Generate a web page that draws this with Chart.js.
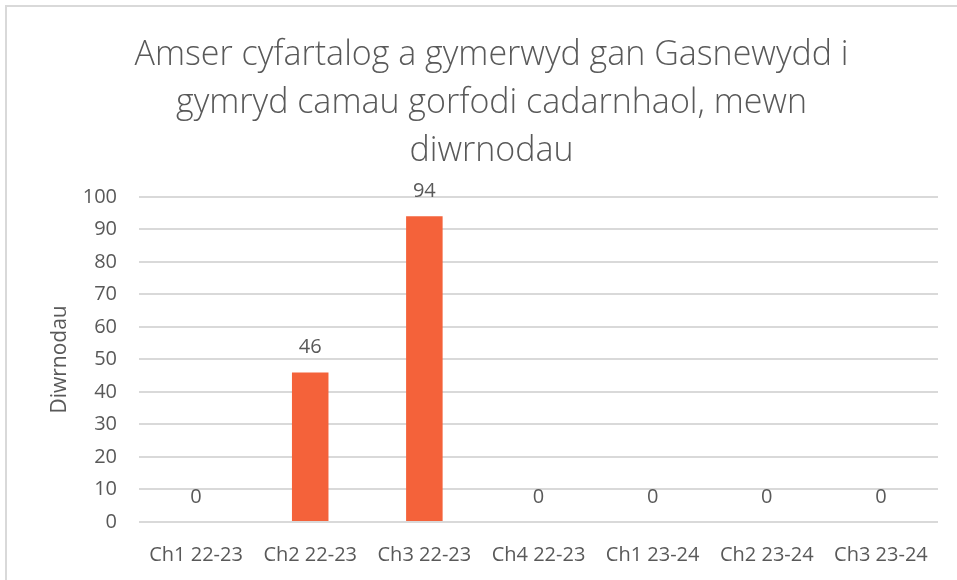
<!DOCTYPE html>
<html lang="cy">
<head>
    <meta charset="UTF-8">
    <title>Amser cyfartalog - Gasnewydd</title>
    <style>
        html, body { margin: 0; padding: 0; background: #fff; }
        body { width: 957px; height: 580px; overflow: hidden; position: relative; }
        .frame { position: absolute; left: 5px; top: 5px; right: -10px; bottom: -10px;
                 border-top: 2px solid #d9d9d9; border-left: 2px solid #d9d9d9; }
        .chart-box { position: absolute; left: 0; top: 0; width: 957px; height: 580px; }
    </style>
    <script src="https://cdn.jsdelivr.net/npm/chart.js"></script>
</head>
<body>
    <div class="frame"></div>
    <div class="chart-box">
        <canvas id="daysChart"></canvas>
    </div>

    <script>
        // data
        const categories = ['Ch1 22-23', 'Ch2 22-23', 'Ch3 22-23', 'Ch4 22-23', 'Ch1 23-24', 'Ch2 23-24', 'Ch3 23-24'];
        const days = [0, 46, 94, 0, 0, 0, 0];
        const yTicks = [0, 10, 20, 30, 40, 50, 60, 70, 80, 90, 100];
        const titleLines = ['Amser cyfartalog a gymerwyd gan Gasnewydd i', 'gymryd camau gorfodi cadarnhaol, mewn', 'diwrnodau'];
        const yTitle = 'Diwrnodau';

        const textGrey = '#595959';
        const fontFamily = '"Open Sans", "Liberation Sans", sans-serif';

        // value labels above the bars
        const valueLabels = {
            id: 'valueLabels',
            afterDatasetsDraw(chart) {
                const ctx = chart.ctx;
                ctx.save();
                ctx.font = '20px ' + fontFamily;
                ctx.fillStyle = textGrey;
                ctx.textAlign = 'center';
                ctx.textBaseline = 'middle';
                chart.getDatasetMeta(0).data.forEach(function(bar, i) {
                    ctx.fillText(String(days[i]), bar.x, bar.y - 25);
                });
                ctx.restore();
            }
        };

        new Chart(document.getElementById('daysChart'), {
            type: 'bar',
            data: {
                labels: categories,
                datasets: [{
                    data: days,
                    backgroundColor: '#F4623A',
                    borderWidth: 0,
                    barPercentage: 0.32,
                    categoryPercentage: 1
                }]
            },
            options: {
                responsive: true,
                maintainAspectRatio: false,
                animation: false,
                layout: { padding: { left: 45, right: 19, top: 6, bottom: 0 } },
                plugins: {
                    legend: { display: false },
                    tooltip: { enabled: false },
                    title: {
                        display: true,
                        text: titleLines,
                        color: textGrey,
                        font: { family: fontFamily, size: 34, weight: '300', lineHeight: 1.4 },
                        padding: { top: 26, bottom: 22 }
                    }
                },
                scales: {
                    x: {
                        grid: { display: false },
                        border: { display: false },
                        ticks: {
                            color: textGrey,
                            font: { family: fontFamily, size: 20 },
                            padding: 13,
                            maxRotation: 0,
                            autoSkip: false
                        }
                    },
                    y: {
                        min: 0,
                        max: 100,
                        afterBuildTicks(scale) {
                            scale.ticks = yTicks.map(v => ({ value: v }));
                        },
                        afterFit(scale) {
                            scale.width = 94;
                        },
                        grid: { color: '#d9d9d9', lineWidth: 2, drawTicks: false },
                        border: { display: false },
                        ticks: {
                            color: textGrey,
                            font: { family: fontFamily, size: 20 },
                            padding: 22
                        },
                        title: {
                            display: true,
                            text: yTitle,
                            color: textGrey,
                            font: { family: fontFamily, size: 21 },
                            padding: { top: 2, bottom: 4 }
                        }
                    }
                }
            },
            plugins: [valueLabels]
        });
    </script>
</body>
</html>
